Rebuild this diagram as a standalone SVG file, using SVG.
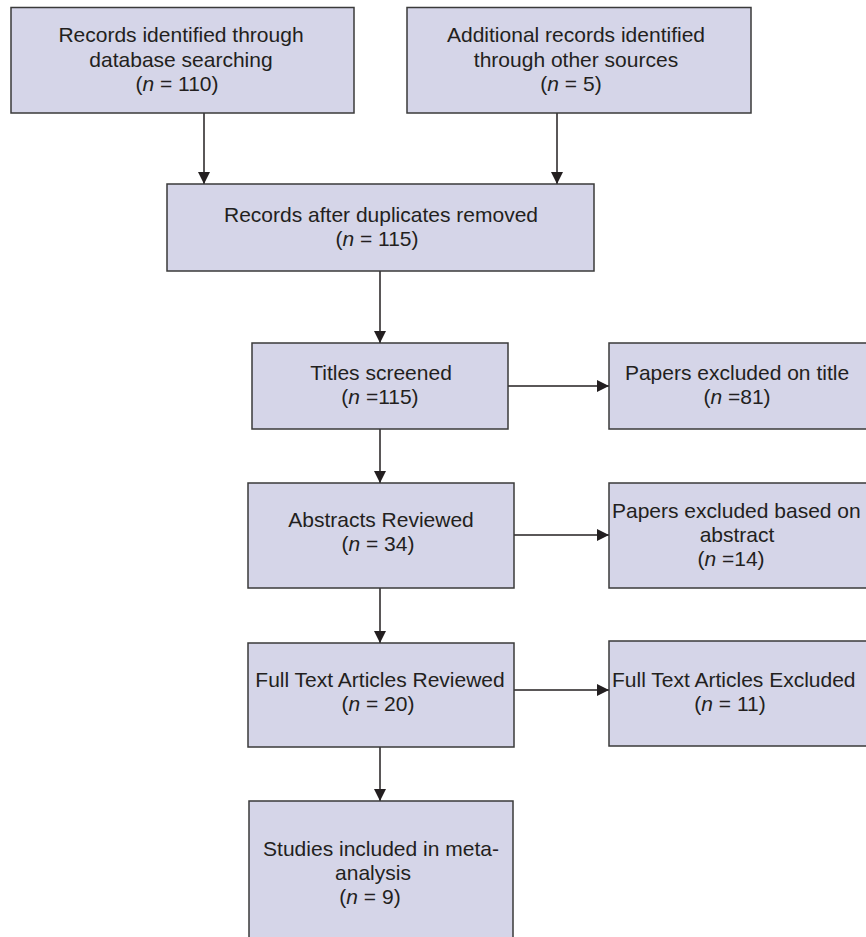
<svg xmlns="http://www.w3.org/2000/svg" width="866" height="937" viewBox="0 0 866 937">
<style>
.box{fill:#d5d5e8;stroke:#3a3a3a;stroke-width:1.5}
.t{font-family:"Liberation Sans",Arial,sans-serif;font-size:21px;fill:#231f20;text-anchor:middle}
.s{text-anchor:start}
.i{font-style:italic}
.c{stroke:#231f20;stroke-width:1.5;fill:none}
</style>
<defs>
<marker id="ah" viewBox="0 0 10 10" refX="10" refY="5" markerWidth="12" markerHeight="12" markerUnits="userSpaceOnUse" orient="auto">
<path d="M0,0 L10,5 L0,10 z" fill="#231f20"/>
</marker>
</defs>
<rect width="866" height="937" fill="#ffffff"/>
<g id="connectors">
<line class="c" x1="204" y1="113" x2="204" y2="184" marker-end="url(#ah)"/>
<line class="c" x1="557" y1="113" x2="557" y2="184" marker-end="url(#ah)"/>
<line class="c" x1="380" y1="271" x2="380" y2="343" marker-end="url(#ah)"/>
<line class="c" x1="380" y1="429" x2="380" y2="483" marker-end="url(#ah)"/>
<line class="c" x1="380" y1="588" x2="380" y2="643" marker-end="url(#ah)"/>
<line class="c" x1="380" y1="747" x2="380" y2="801" marker-end="url(#ah)"/>
<line class="c" x1="508" y1="386" x2="609" y2="386" marker-end="url(#ah)"/>
<line class="c" x1="514" y1="535" x2="609" y2="535" marker-end="url(#ah)"/>
<line class="c" x1="514" y1="690" x2="609" y2="690" marker-end="url(#ah)"/>
</g>
<g id="n1">
<rect class="box" x="11" y="7.5" width="343" height="105.5"/>
<text class="t" x="181" y="42">Records identified through</text>
<text class="t" x="181" y="67">database searching</text>
<text class="t" x="177" y="91">(<tspan class="i">n</tspan> = 110)</text>
</g>
<g id="n2">
<rect class="box" x="407" y="7.5" width="344" height="105.5"/>
<text class="t" x="576" y="42">Additional records identified</text>
<text class="t" x="576" y="67">through other sources</text>
<text class="t" x="571" y="91">(<tspan class="i">n</tspan> = 5)</text>
</g>
<g id="n3">
<rect class="box" x="167" y="184" width="427" height="87"/>
<text class="t" x="381" y="222">Records after duplicates removed</text>
<text class="t" x="377" y="246">(<tspan class="i">n</tspan> = 115)</text>
</g>
<g id="n4">
<rect class="box" x="252" y="343" width="256" height="86"/>
<text class="t" x="381" y="380">Titles screened</text>
<text class="t" x="380" y="404">(<tspan class="i">n</tspan> =115)</text>
</g>
<g id="n5">
<rect class="box" x="609" y="343" width="262" height="86"/>
<text class="t" x="737" y="380">Papers excluded on title</text>
<text class="t" x="737" y="404">(<tspan class="i">n</tspan> =81)</text>
</g>
<g id="n6">
<rect class="box" x="248" y="483" width="266" height="105"/>
<text class="t" x="381" y="527">Abstracts Reviewed</text>
<text class="t" x="378" y="551">(<tspan class="i">n</tspan> = 34)</text>
</g>
<g id="n7">
<rect class="box" x="609" y="483" width="262" height="105"/>
<text class="t s" x="612" y="518">Papers excluded based on</text>
<text class="t" x="737" y="542">abstract</text>
<text class="t" x="731" y="566">(<tspan class="i">n</tspan> =14)</text>
</g>
<g id="n8">
<rect class="box" x="248" y="643" width="266" height="104"/>
<text class="t" x="380" y="687">Full Text Articles Reviewed</text>
<text class="t" x="378" y="711">(<tspan class="i">n</tspan> = 20)</text>
</g>
<g id="n9">
<rect class="box" x="609" y="641" width="262" height="105"/>
<text class="t s" x="612" y="687">Full Text Articles Excluded</text>
<text class="t" x="730" y="711">(<tspan class="i">n</tspan> = 11)</text>
</g>
<g id="n10">
<rect class="box" x="249" y="801" width="264" height="150"/>
<text class="t" x="381" y="856">Studies included in meta-</text>
<text class="t" x="373" y="880">analysis</text>
<text class="t" x="370" y="904">(<tspan class="i">n</tspan> = 9)</text>
</g>
</svg>
